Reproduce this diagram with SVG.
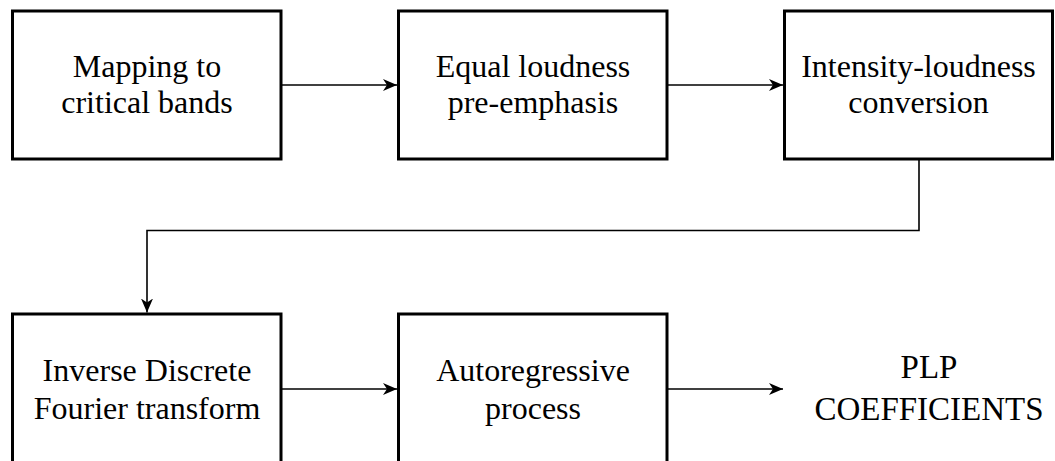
<svg xmlns="http://www.w3.org/2000/svg" width="1055" height="461" viewBox="0 0 1055 461">
<style>
.box{fill:#fff;stroke:#000;stroke-width:3}
.lbl{font-family:"Liberation Serif","Times New Roman",serif;font-size:32px;fill:#000;text-anchor:middle}
.plp{font-size:33px}
.con{fill:none;stroke:#000;stroke-width:1.6}
</style>
<defs>
<marker id="ah" viewBox="0 0 14 12" refX="14" refY="6" markerWidth="14" markerHeight="12" markerUnits="userSpaceOnUse" orient="auto">
<path d="M0,0 L14,6 L0,12 L4,6 Z" fill="#000"/>
</marker>
</defs>
<rect width="1055" height="461" fill="#fff"/>
<g id="connectors">
<line class="con" x1="282" y1="85" x2="397" y2="85" marker-end="url(#ah)"/>
<line class="con" x1="668" y1="85" x2="783" y2="85" marker-end="url(#ah)"/>
<polyline class="con" points="919,160 919,230.5 147,230.5 147,312.5" marker-end="url(#ah)"/>
<line class="con" x1="282" y1="389" x2="397" y2="389" marker-end="url(#ah)"/>
<line class="con" x1="668" y1="389" x2="783" y2="389" marker-end="url(#ah)"/>
</g>
<g id="n1">
<rect class="box" x="12.5" y="11" width="268.5" height="148"/>
<text class="lbl" x="147" y="77">Mapping to</text>
<text class="lbl" x="147" y="113">critical bands</text>
</g>
<g id="n2">
<rect class="box" x="398.5" y="11" width="268.5" height="148"/>
<text class="lbl" x="533" y="77">Equal loudness</text>
<text class="lbl" x="533" y="113">pre-emphasis</text>
</g>
<g id="n3">
<rect class="box" x="784.5" y="11" width="268" height="148"/>
<text class="lbl" x="918.5" y="77">Intensity-loudness</text>
<text class="lbl" x="918.5" y="113">conversion</text>
</g>
<g id="n4">
<rect class="box" x="12.5" y="314" width="268.5" height="170"/>
<text class="lbl" x="147" y="381">Inverse Discrete</text>
<text class="lbl" x="147" y="419">Fourier transform</text>
</g>
<g id="n5">
<rect class="box" x="398.5" y="314" width="268.5" height="170"/>
<text class="lbl" x="533" y="381">Autoregressive</text>
<text class="lbl" x="533" y="419">process</text>
</g>
<g id="n6">
<text class="lbl plp" x="929" y="378">PLP</text>
<text class="lbl plp" x="929" y="420">COEFFICIENTS</text>
</g>
</svg>
